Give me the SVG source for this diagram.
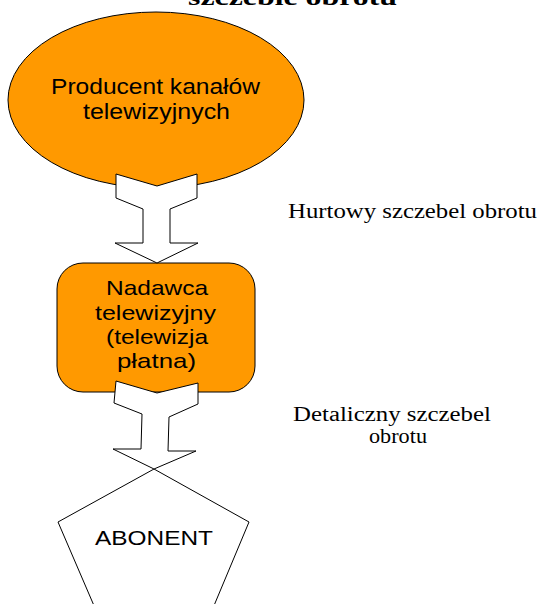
<svg xmlns="http://www.w3.org/2000/svg" width="539" height="604" viewBox="0 0 539 604">
<style>
.node{fill:#FF9900;stroke:#000;stroke-width:1}
.sans{font-family:"Liberation Sans",Arial,sans-serif;fill:#000}
.serif{font-family:"Liberation Serif","Times New Roman",serif;fill:#000}
.arrow{fill:#fff;stroke:#000;stroke-width:1;stroke-linejoin:miter}
</style>
<rect width="539" height="604" fill="#fff"/>
<text class="serif" x="188" y="5" font-size="23" font-weight="bold" textLength="209" lengthAdjust="spacingAndGlyphs">szczeble obrotu</text>
<g id="producent">
<ellipse class="node" cx="156" cy="100" rx="148" ry="88"/>
<text class="sans" font-size="22" x="51" y="94" textLength="209" lengthAdjust="spacingAndGlyphs">Producent kanałów</text>
<text class="sans" font-size="22" x="83" y="119" textLength="147" lengthAdjust="spacingAndGlyphs">telewizyjnych</text>
</g>
<g id="nadawca">
<rect class="node" x="57" y="263" width="198" height="129" rx="26" ry="26"/>
<text class="sans" font-size="21" x="106" y="295" textLength="102" lengthAdjust="spacingAndGlyphs">Nadawca</text>
<text class="sans" font-size="21" x="95" y="320" textLength="121" lengthAdjust="spacingAndGlyphs">telewizyjny</text>
<text class="sans" font-size="21" x="106" y="344" textLength="102" lengthAdjust="spacingAndGlyphs">(telewizja</text>
<text class="sans" font-size="21" x="117" y="368" textLength="79" lengthAdjust="spacingAndGlyphs">płatna)</text>
</g>
<g id="abonent">
<polygon points="154,469 249,522 213,608 95,608 58,522" fill="#fff" stroke="#000" stroke-width="1"/>
<text class="sans" font-size="21" x="95" y="545" textLength="118" lengthAdjust="spacingAndGlyphs">ABONENT</text>
</g>
<g id="connectors">
<polygon class="arrow" points="116,174 157,186 197,174 197,198 170,209 170,243 198,243 157,263 115,243 143,243 143,209 116,198"/>
<polygon class="arrow" points="116,381 157,393 198,383 198,404 169,417 168,451 196,451 154,469 113,449 141,449 142,414 114,403"/>
</g>
<g id="labels">
<text class="serif" font-size="21" x="288" y="218" textLength="249" lengthAdjust="spacingAndGlyphs">Hurtowy szczebel obrotu</text>
<text class="serif" font-size="20" x="293" y="421" textLength="198" lengthAdjust="spacingAndGlyphs">Detaliczny szczebel</text>
<text class="serif" font-size="20" x="369" y="443" textLength="58" lengthAdjust="spacingAndGlyphs">obrotu</text>
</g>
</svg>
